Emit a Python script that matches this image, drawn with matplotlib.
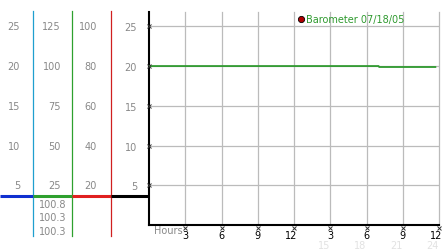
import matplotlib
matplotlib.use('Agg')
import matplotlib.pyplot as plt
from matplotlib.transforms import blended_transform_factory, offset_copy

# ── Data ────────────────────────────────────────────
hours = [0, 19.0, 19.05, 23.7]
baro_scaled = [20.0, 20.0, 19.88, 19.88]
series_label = 'Barometer 07/18/05'

main_ticks = [5, 10, 15, 20, 25]
col1_labels = ['5', '10', '15', '20', '25']
col2_labels = ['25', '50', '75', '100', '125']
col3_labels = ['20', '40', '60', '80', '100']
baro_readings = ['100.8', '100.3', '100.3']

hour_ticks = [3, 6, 9, 12, 15, 18, 21, 24]
hour_labels = ['3', '6', '9', '12', '3', '6', '9', '12']
faint_ticks = [15, 18, 21, 24]
faint_labels = ['15', '18', '21', '24']

W, H = 442, 253
GRAY = '#888888'
FS = 7


def fx(x):
    return x / W


def fy(y):
    return 1 - y / H


fig = plt.figure(figsize=(W / 100, H / 100), dpi=100)
fig.patch.set_facecolor('white')

ax = fig.add_axes([fx(149), fy(226), (439 - 149) / W, (226 - 13) / H])
ax.set_xlim(0, 24)
ax.set_ylim(0, 26.8)
for s in ['top', 'right']:
    ax.spines[s].set_visible(False)
ax.spines['left'].set_linewidth(1.5)
ax.spines['bottom'].set_linewidth(1.5)

# grid
for h in hour_ticks:
    ax.axvline(h, color='#bbbbbb', lw=0.9, zorder=0, clip_on=False)
for v in main_ticks:
    ax.axhline(v, color='#bbbbbb', lw=0.9, zorder=0)

# series
ax.plot(hours, baro_scaled, color='#2f9a2f', lw=1.3, zorder=3)

# y ticks (4th column)
ax.set_yticks(main_ticks)
ax.set_yticklabels(col1_labels)
ax.tick_params(axis='y', length=0, pad=8.6, labelsize=FS, labelcolor=GRAY)
ax.plot([0] * len(main_ticks), main_ticks, linestyle='none', marker='x',
        ms=2.5, mew=0.7, color='#333333', clip_on=False, zorder=4,
        transform=blended_transform_factory(ax.transAxes, ax.transData))

# x ticks
ax.set_xticks([])
xt = blended_transform_factory(ax.transData, fig.transFigure)
ax.plot(hour_ticks, [fy(229)] * len(hour_ticks), linestyle='none', marker='x',
        ms=2.5, mew=0.7, color='#333333', clip_on=False, zorder=4, transform=xt)
for h, lab in zip(faint_ticks, faint_labels):
    ax.text(h, fy(246), lab, transform=xt, ha='right', va='center',
            fontsize=FS, color='#e2e2e2', clip_on=False, zorder=1)
for h, lab in zip(hour_ticks, hour_labels):
    ax.text(h, fy(236), lab, transform=offset_copy(xt, fig, x=3, units='dots'),
            ha='right', va='center', fontsize=FS, color='black', clip_on=False, zorder=2)
fig.text(fx(154), fy(231), 'Hours', ha='left', va='center', fontsize=FS, color=GRAY)

# left columns of scales
bt = blended_transform_factory(fig.transFigure, ax.transData)
for xr, labs in [(20, col1_labels), (61, col2_labels), (97, col3_labels)]:
    for v, lab in zip(main_ticks, labs):
        ax.text(fx(xr), v, lab, transform=bt, ha='right', va='center',
                fontsize=FS, color=GRAY, clip_on=False)

for i, r in enumerate(baro_readings):
    fig.text(fx(53), fy(205 + 13.5 * i), r, ha='center', va='center',
             fontsize=FS, color=GRAY)

# vertical colored separators and baseline
for x, c in [(33, '#1f9fcf'), (72, '#2ea02e'), (111, '#d02020')]:
    fig.add_artist(plt.Line2D([fx(x), fx(x)], [fy(12), fy(237)], color=c, lw=0.9))
for x0, x1, c in [(0, 33, '#1030d0'), (33, 72, '#2ea02e'), (72, 111, '#e02020'), (111, 149, 'black')]:
    fig.add_artist(plt.Line2D([fx(x0), fx(x1)], [fy(197), fy(197)], color=c, lw=2.2,
                              solid_capstyle='butt'))

# legend
fig.add_artist(plt.Line2D([fx(301)], [fy(20)], marker='o', ms=4.5, mfc='#b00000',
                          mec='black', mew=0.6, linestyle='none'))
fig.text(fx(306), fy(20), series_label, ha='left', va='center', fontsize=FS,
         color='#2f9a2f')

fig.savefig('out.png', dpi=100)
